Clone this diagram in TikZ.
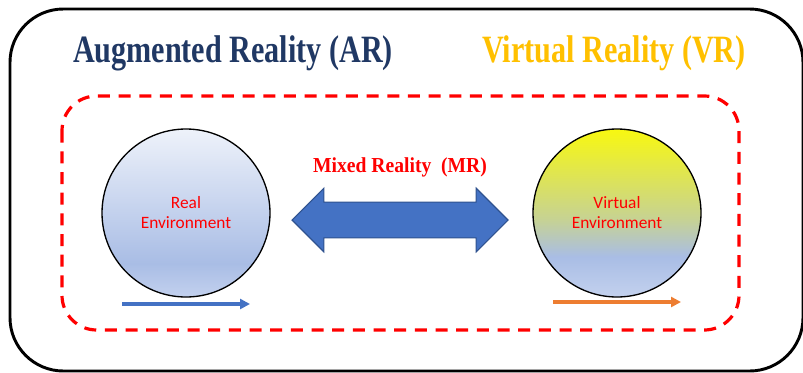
\documentclass[tikz,border=0pt]{standalone}
\usepackage{fontspec}
\setmainfont{Liberation Serif}
\newfontfamily\calibri{Carlito}
\usetikzlibrary{shapes.arrows,arrows.meta}
\definecolor{arblue}{HTML}{203864}
\definecolor{vrgold}{HTML}{FFC000}
\definecolor{mrblue}{HTML}{4472C4}
\definecolor{mredge}{HTML}{2F528F}
\definecolor{vrorange}{HTML}{ED7D31}
\definecolor{softtop}{HTML}{EEF2FA}
\definecolor{softblue}{HTML}{A9BDE5}
\definecolor{softbot}{HTML}{C3D1EE}
\definecolor{vryellow}{HTML}{F8F810}
\definecolor{vrgreen}{HTML}{C6D294}
\pgfdeclareverticalshading{realshade}{100bp}{color(0bp)=(softbot); color(25bp)=(softbot);
  color(35bp)=(softblue); color(75bp)=(softtop); color(100bp)=(softtop)}
\pgfdeclareverticalshading{virtualshade}{100bp}{color(0bp)=(softbot); color(25bp)=(softbot);
  color(37bp)=(softblue); color(48bp)=(vrgreen); color(75bp)=(vryellow); color(100bp)=(vryellow)}
\tikzset{
  title/.style={font=\bfseries\fontsize{29}{30}\selectfont,inner sep=0pt,anchor=base},
  world/.style={circle,draw,line width=1pt,minimum size=126pt,inner sep=0pt,align=center,
    text=red,font=\calibri\fontsize{13}{15}\selectfont},
  bar/.style={line width=2.7pt,-{Triangle[length=7.5pt,width=7.5pt]}}
}
\begin{document}
\begin{tikzpicture}[x=0.75pt,y=-0.75pt]
\useasboundingbox (0,0) rectangle (803,372);
\draw[line width=2.2pt,rounded corners=40pt] (10,9) rectangle (803,371);
\draw[red,line width=2.4pt,dash pattern=on 9pt off 6.5pt,rounded corners=26pt] (62,96) rectangle (739,330);
\node[title,text=arblue] (ar) at (233,62) {\scalebox{0.78}[1]{Augmented Reality (AR)}};
\node[title,text=vrgold] (vr) at (614,62) {\scalebox{0.78}[1]{Virtual Reality (VR)}};
\node[world,shading=realshade] (real) at (186,213) {Real\\Environment};
\node[world,shading=virtualshade] (virtual) at (617,213) {Virtual\\Environment};
\node[double arrow,fill=mrblue,draw=mredge,line width=0.8pt,minimum height=162pt,
  inner xsep=0pt,inner ysep=13pt,double arrow head extend=10.5pt] (mixed) at (400,220) {};
\node[font=\bfseries\fontsize{16}{17}\selectfont,text=red,anchor=base] (mr) at (400,172)
  {\scalebox{0.92}[1]{Mixed Reality\ \ (MR)}};
\coordinate (arstart) at (122,304);
\coordinate (arend) at (250,304);
\coordinate (vrstart) at (553,302);
\coordinate (vrend) at (681,302);
\draw[bar,mrblue] (arstart) -- (arend);
\draw[bar,vrorange] (vrstart) -- (vrend);
\end{tikzpicture}
\end{document}
